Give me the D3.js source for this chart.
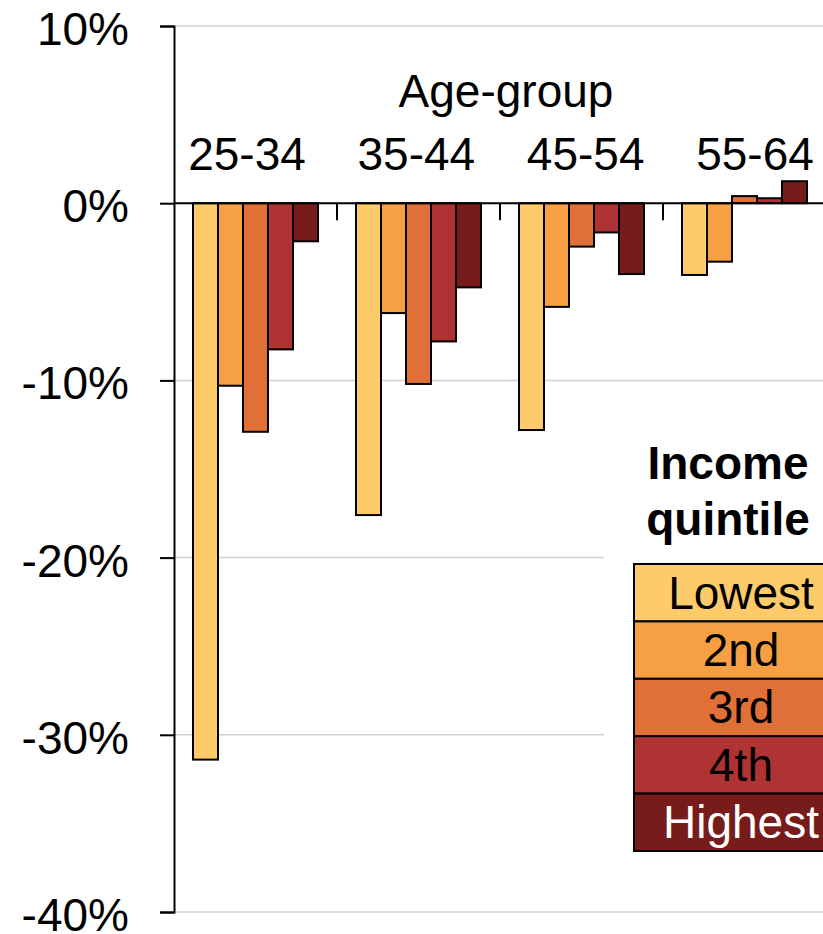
<!DOCTYPE html>
<html>
<head>
<meta charset="utf-8">
<script src="https://cdn.jsdelivr.net/npm/d3@7"></script>
<style>
html,body{margin:0;padding:0;background:#fff;overflow:hidden;}
text{font-family:"Liberation Sans",Arial,sans-serif;}
</style>
</head>
<body>
<svg id="chart" width="823" height="934"></svg>
<script>
const ageGroups = ["25-34", "35-44", "45-54", "55-64"];
const quintiles = ["Lowest", "2nd", "3rd", "4th", "Highest"];
const colors = ["#FECB6B", "#F7A043", "#E07038", "#B03333", "#771C1A"];
const legendTextColors = ["#000", "#000", "#000", "#000", "#fff"];
// values (%) by age group, one array per quintile
const lowest  = [-31.4, -17.6, -12.8, -4.05];
const second  = [-10.3, -6.2, -5.85, -3.3];
const third   = [-12.9, -10.2, -2.45, 0.4];
const fourth  = [-8.25, -7.8, -1.65, 0.28];
const highest = [-2.15, -4.75, -4.0, 1.24];
const series = [lowest, second, third, fourth, highest];
const yTicks = [10, 0, -10, -20, -30, -40];
const axisTitle = "Age-group";
const legendTitle = ["Income", "quintile"];

(function () {
const svg = d3.select("#chart");
const mLeft = 174, mTop = 26, mBottom = 912, mRight = 826;

const y = d3.scaleLinear().domain([-40, 10]).range([mBottom, mTop]);
const x0 = d3.scaleBand().domain(ageGroups).range([mLeft, mRight]).padding(0);
const x1 = d3.scaleBand().domain(quintiles).range([19, x0.bandwidth() - 19]).padding(0);
const labelX = d3.scalePoint().domain(ageGroups).range([247, 755]);

// gridlines
svg.append("g").selectAll("line").data(yTicks.filter(t => t !== 0)).join("line")
  .attr("x1", mLeft).attr("x2", 823)
  .attr("y1", d => y(d)).attr("y2", d => y(d))
  .attr("stroke", "#d0d0d0").attr("stroke-width", 1.5);

// y axis
const yAxis = d3.axisLeft(y).tickValues(yTicks).tickSize(14).tickPadding(31)
  .tickFormat(d => d + "%");
const gy = svg.append("g").attr("transform", `translate(${mLeft},0)`).call(yAxis);
gy.select(".domain").attr("stroke", "#000").attr("stroke-width", 2);
gy.selectAll(".tick line").attr("stroke", "#000").attr("stroke-width", 2);
gy.selectAll(".tick text").attr("font-size", 46).attr("fill", "#000")
  .attr("font-family", "'Liberation Sans', Arial, sans-serif").attr("dy", "0.4em");

// category ticks along zero line
svg.append("g").selectAll("line").data(ageGroups.slice(1)).join("line")
  .attr("x1", d => x0(d)).attr("x2", d => x0(d))
  .attr("y1", y(0)).attr("y2", y(0) + 17)
  .attr("stroke", "#000").attr("stroke-width", 2);

// bars
const groups = svg.append("g").selectAll("g").data(ageGroups).join("g")
  .attr("transform", d => `translate(${x0(d)},0)`);
groups.selectAll("rect").data((d, i) => quintiles.map((q, j) => ({q, j, v: series[j][i]}))).join("rect")
  .attr("x", d => x1(d.q))
  .attr("width", x1.bandwidth())
  .attr("y", d => y(Math.max(0, d.v)))
  .attr("height", d => Math.abs(y(d.v) - y(0)))
  .attr("fill", d => colors[d.j])
  .attr("stroke", "#000").attr("stroke-width", 2);

// zero line
svg.append("line").attr("x1", mLeft).attr("x2", 823)
  .attr("y1", y(0)).attr("y2", y(0)).attr("stroke", "#000").attr("stroke-width", 2);

// category labels
svg.append("g").selectAll("text").data(ageGroups).join("text")
  .attr("x", d => labelX(d)).attr("y", 170)
  .attr("text-anchor", "middle").attr("font-size", 46).text(d => d);
svg.append("text").attr("x", 506).attr("y", 107)
  .attr("text-anchor", "middle").attr("font-size", 46).text(axisTitle);

// legend
const lg = svg.append("g");
lg.append("rect").attr("x", 604).attr("y", 400).attr("width", 230).attr("height", 480).attr("fill", "#fff");
lg.selectAll("text.title").data(legendTitle).join("text").attr("class", "title")
  .attr("x", 728).attr("y", (d, i) => 479 + i * 56)
  .attr("text-anchor", "middle").attr("font-size", 46).attr("font-weight", "bold").text(d => d);
const rowH = 57.4, lx = 634, ly = 564, lw = 214;
const rows = lg.selectAll("g.row").data(quintiles).join("g").attr("class", "row")
  .attr("transform", (d, i) => `translate(${lx},${ly + i * rowH})`);
rows.append("rect").attr("width", lw).attr("height", rowH)
  .attr("fill", (d, i) => colors[i]).attr("stroke", "#000").attr("stroke-width", 2);
rows.append("text").attr("x", 107).attr("y", rowH / 2 + 16)
  .attr("text-anchor", "middle").attr("font-size", 46)
  .attr("fill", (d, i) => legendTextColors[i]).text(d => d);
})();
</script>
</body>
</html>
